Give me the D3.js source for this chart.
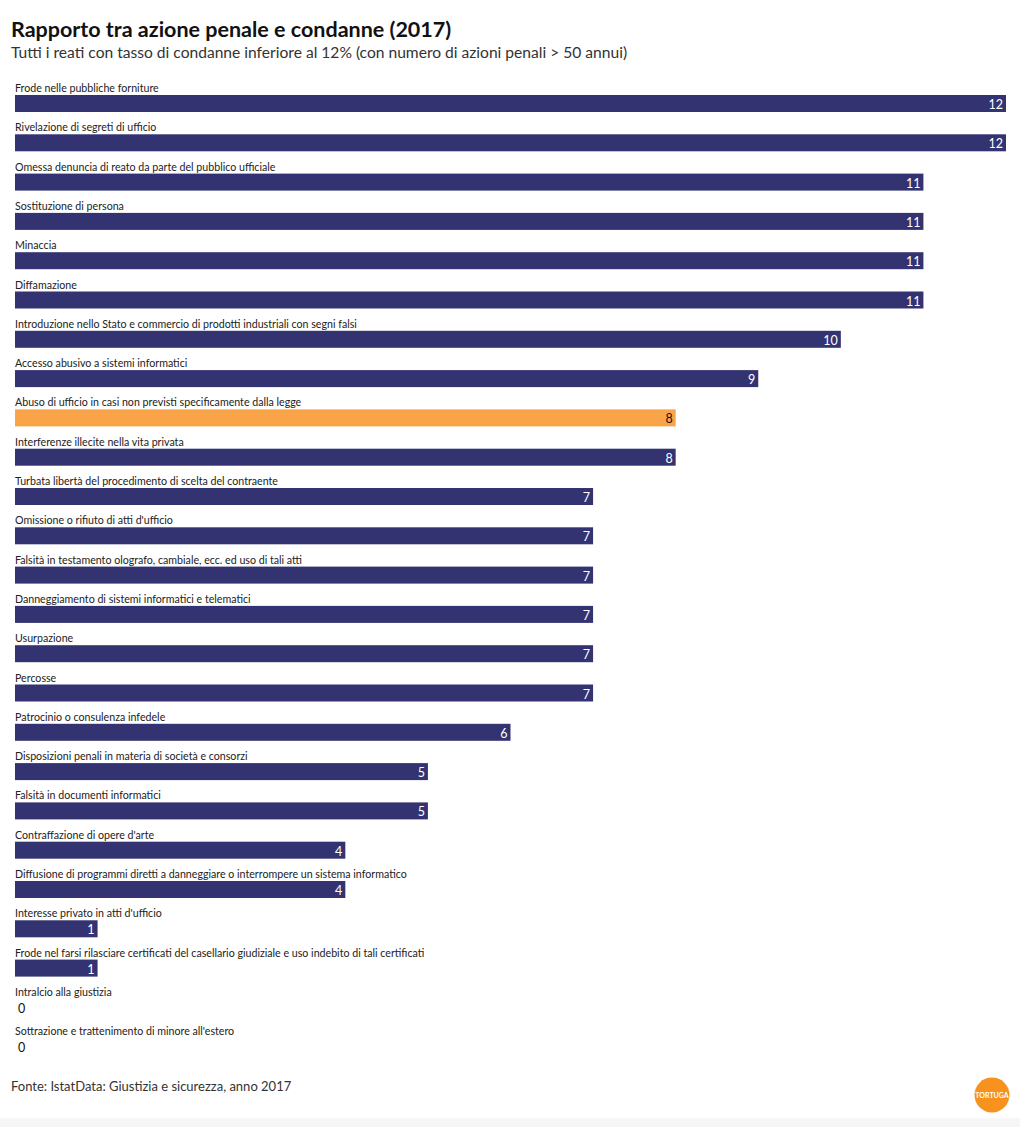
<!DOCTYPE html>
<html><head><meta charset="utf-8">
<script src="https://cdn.jsdelivr.net/npm/d3@7"></script>
<style>
html,body{margin:0;padding:0;background:#fff;}
svg{display:block;font-family:Lato,"Noto Sans",sans-serif;}
</style></head><body>
<svg id="c" width="1020" height="1127"></svg>
<script>
const categories = [
"Frode nelle pubbliche forniture",
"Rivelazione di segreti di ufficio",
"Omessa denuncia di reato da parte del pubblico ufficiale",
"Sostituzione di persona",
"Minaccia",
"Diffamazione",
"Introduzione nello Stato e commercio di prodotti industriali con segni falsi",
"Accesso abusivo a sistemi informatici",
"Abuso di ufficio in casi non previsti specificamente dalla legge",
"Interferenze illecite nella vita privata",
"Turbata libertà del procedimento di scelta del contraente",
"Omissione o rifiuto di atti d'ufficio",
"Falsità in testamento olografo, cambiale, ecc. ed uso di tali atti",
"Danneggiamento di sistemi informatici e telematici",
"Usurpazione",
"Percosse",
"Patrocinio o consulenza infedele",
"Disposizioni penali in materia di società e consorzi",
"Falsità in documenti informatici",
"Contraffazione di opere d'arte",
"Diffusione di programmi diretti a danneggiare o interrompere un sistema informatico",
"Interesse privato in atti d'ufficio",
"Frode nel farsi rilasciare certificati del casellario giudiziale e uso indebito di tali certificati",
"Intralcio alla giustizia",
"Sottrazione e trattenimento di minore all'estero"
];
const values = [12,12,11,11,11,11,10,9,8,8,7,7,7,7,7,7,6,5,5,4,4,1,1,0,0];
const highlighted = ["Abuso di ufficio in casi non previsti specificamente dalla legge"];
const title = "Rapporto tra azione penale e condanne (2017)";
const subtitle = "Tutti i reati con tasso di condanne inferiore al 12% (con numero di azioni penali > 50 annui)";
const source = "Fonte: IstatData: Giustizia e sicurezza, anno 2017";

const svg = d3.select("#c");
const data = categories.map((c,i)=>({c, v: values[i]}));

svg.append("rect").attr("x",0).attr("y",1118).attr("width",1020).attr("height",9).attr("fill","#f6f6f6");

svg.append("text").attr("x",11).attr("y",37).attr("font-size",21.5).attr("font-weight",700)
  .attr("fill","#111").text(title);
svg.append("text").attr("x",11).attr("y",58).attr("font-size",15.6).attr("fill","#333").text(subtitle);

const x = d3.scaleLinear().domain([0,12]).range([15,1006]);
const y = d3.scaleBand().domain(categories).range([80, 80 + 39.3*categories.length]).paddingInner(0);

const g = svg.append("g");
const row = g.selectAll("g.row").data(data).join("g").attr("class","row")
  .attr("transform", d=>`translate(0,${y(d.c)})`);

row.append("text").attr("x",15).attr("y",12).attr("font-size",10.65).attr("fill","#222").text(d=>d.c);
row.append("rect").attr("x",x(0)).attr("y",15).attr("height",17)
  .attr("width",d=>x(d.v)-x(0))
  .attr("fill",d=>highlighted.includes(d.c)?"#f9a449":"#333371");
row.append("text")
  .attr("x",d=>d.v>0 ? x(d.v)-3 : x(0)+3)
  .attr("y",29)
  .attr("text-anchor",d=>d.v>0?"end":"start")
  .attr("font-size",12.5)
  .attr("fill",d=>d.v===0||highlighted.includes(d.c)?"#111":"#fff")
  .text(d=>d.v);

svg.append("text").attr("x",11).attr("y",1091).attr("font-size",13).attr("fill","#333").text(source);

const logo = svg.append("g").attr("transform","translate(992,1095)");
logo.append("circle").attr("r",17.5).attr("fill","#f7921e");
logo.append("text").attr("text-anchor","middle").attr("y",2.5).attr("font-size",7)
  .attr("font-weight",700).attr("fill","#fff").text("TORTUGA");
</script>
</body></html>
